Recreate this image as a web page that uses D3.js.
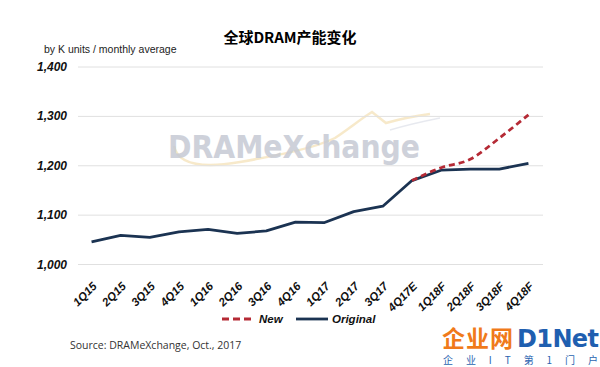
<!DOCTYPE html>
<html><head><meta charset="utf-8">
<script src="https://cdn.jsdelivr.net/npm/d3@7"></script>
<style>body{margin:0;background:#fff}svg{display:block}</style>
</head><body>
<script>
const categories = ["1Q15","2Q15","3Q15","4Q15","1Q16","2Q16","3Q16","4Q16","1Q17","2Q17","3Q17","4Q17E","1Q18F","2Q18F","3Q18F","4Q18F"];
const originalValues = [1046,1059,1055,1066,1071,1063,1068,1086,1085,1107,1118,1170,1191,1193,1193,1205];
const newCategories = ["4Q17E","1Q18F","2Q18F","3Q18F","4Q18F"];
const newValues = [1170,1196,1213,1256,1303];
const yTicks = [1000,1100,1200,1300,1400];
const title = "全球DRAM产能变化";
const unitLabel = "by K units / monthly average";
const sourceLabel = "Source: DRAMeXchange, Oct., 2017";

const W=600,H=367;
const svg=d3.select("body").append("svg").attr("width",W).attr("height",H);

const x=d3.scaleBand().domain(categories).range([77,543]);
const cx=c=>x(c)+x.bandwidth()/2;
const y=d3.scaleLinear().domain([1000,1400]).range([264.5,67]);

// watermark
const wm=svg.append("g");
wm.append("path").attr("d","M174,146 C178,166 205,168 240,162 C280,155 315,148 335,138 C350,128 362,118 372,112 L386,123 C400,119 415,116 430,114")
  .attr("fill","none").attr("stroke","#f4e2b8").attr("stroke-width",2.5).attr("opacity",0.75);
wm.append("path").attr("d","M390,130 C410,124 425,121 440,118")
  .attr("fill","none").attr("stroke","#dde0e8").attr("stroke-width",1.5).attr("opacity",0.7);
wm.append("text").attr("x",168).attr("y",158).attr("font-family","DejaVu Sans, Verdana, sans-serif")
  .attr("font-weight","bold").attr("font-size",32).attr("fill","#c6cad4").attr("opacity",0.85)
  .attr("textLength",252).attr("lengthAdjust","spacingAndGlyphs").text("DRAMeXchange");

// gridlines
svg.append("g").selectAll("line").data(yTicks).join("line")
  .attr("x1",78).attr("x2",543).attr("y1",d=>y(d)).attr("y2",d=>y(d))
  .attr("stroke","#e0e0e0").attr("stroke-width",1);

// y axis labels
svg.append("g").selectAll("text").data(yTicks).join("text")
  .attr("x",67).attr("y",d=>y(d)+4).attr("text-anchor","end")
  .attr("font-family","Liberation Sans, Arial, sans-serif").attr("font-weight","bold").attr("font-style","italic")
  .attr("font-size",12).attr("fill","#111").text(d=>d3.format(",")(d));

// x labels
svg.append("g").selectAll("text").data(categories).join("text")
  .attr("transform",d=>`translate(${cx(d)+6},${287}) rotate(-45)`).attr("text-anchor","end")
  .attr("font-family","Liberation Sans, Arial, sans-serif").attr("font-weight","bold").attr("font-style","italic")
  .attr("font-size",11.5).attr("fill","#111").text(d=>d);

// lines
const lineO=d3.line().x((d,i)=>cx(categories[i])).y(d=>y(d));
svg.append("path").datum(originalValues).attr("d",lineO)
  .attr("fill","none").attr("stroke","#1b3352").attr("stroke-width",2.8).attr("stroke-linejoin","round");
const lineN=d3.line().x((d,i)=>cx(newCategories[i])).y(d=>y(d)).curve(d3.curveMonotoneX);
svg.append("path").datum(newValues).attr("d",lineN)
  .attr("fill","none").attr("stroke","#b52a35").attr("stroke-width",2.8).attr("stroke-dasharray","6,4");

// title
svg.append("text").attr("x",290).attr("y",43).attr("text-anchor","middle")
  .attr("font-family","Noto Sans CJK SC, sans-serif").attr("font-weight","bold").attr("font-size",15).attr("fill","#000").text(title);
svg.append("text").attr("x",44).attr("y",53)
  .attr("font-family","Liberation Sans, Arial, sans-serif").attr("font-size",10.5).attr("fill","#222").text(unitLabel);

// legend
const lg=svg.append("g");
lg.append("line").attr("x1",222).attr("x2",253).attr("y1",319).attr("y2",319).attr("stroke","#b52a35").attr("stroke-width",2.8).attr("stroke-dasharray","7,4");
lg.append("text").attr("x",259).attr("y",323).attr("font-family","Liberation Sans, Arial, sans-serif").attr("font-weight","bold").attr("font-style","italic").attr("font-size",11.5).attr("fill","#111").text("New");
lg.append("line").attr("x1",296).attr("x2",328).attr("y1",319).attr("y2",319).attr("stroke","#1b3352").attr("stroke-width",2.8);
lg.append("text").attr("x",332).attr("y",323).attr("font-family","Liberation Sans, Arial, sans-serif").attr("font-weight","bold").attr("font-style","italic").attr("font-size",11.5).attr("fill","#111").text("Original");

svg.append("text").attr("x",70).attr("y",349).attr("font-family","Open Sans, Noto Sans, sans-serif").attr("font-size",10.5).attr("fill","#333").text(sourceLabel);

// logo
const logo=svg.append("g");
logo.append("text").attr("x",442).attr("y",347).attr("font-family","Noto Sans CJK SC, sans-serif").attr("font-weight","bold").attr("font-size",23).attr("fill","#f07a1a").attr("textLength",71).text("企业网");
logo.append("text").attr("x",517).attr("y",347).attr("font-family","DejaVu Sans, sans-serif").attr("font-weight","bold").attr("font-size",24).attr("fill","#1f5fb0").attr("textLength",82).text("D1Net");
logo.append("text").attr("x",443).attr("y",364).attr("font-family","Noto Sans CJK SC, sans-serif").attr("font-size",10).attr("fill","#2a64b0").attr("textLength",155).text("企 业 I T 第 1 门 户");
</script>
</body></html>
